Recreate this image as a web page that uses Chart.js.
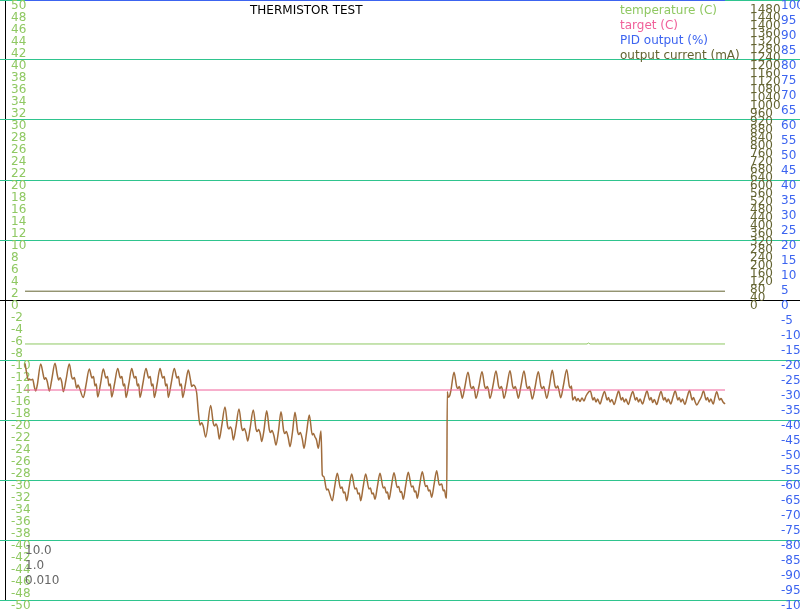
<!DOCTYPE html>
<html>
<head>
<meta charset="utf-8">
<script src="https://cdn.jsdelivr.net/npm/chart.js@4/dist/chart.umd.min.js"></script>
<style>
html,body{margin:0;padding:0;background:#fff;}
canvas{display:block;}
</style>
</head>
<body>
<canvas id="c" width="800" height="611"></canvas>
<script>
// ---- data (time in s) ----
const chartTitle = 'THERMISTOR TEST';
const pidGains = ['10.0', '1.0', '0.010'];

const currentTicks = [0,40,80,120,160,200,240,280,320,360,400,440,480,520,560,600,640,680,720,760,
  800,840,880,920,960,1000,1040,1080,1120,1160,1200,1240,1280,1320,1360,1400,1440,1480];

const flatTime = [0, 700];
const temperatureTime = [0, 562, 563.5, 565, 700];
const temperatureC = [-7.33, -7.33, -7.17, -7.33, -7.33];
const targetC = [-15, -15];
const pidOutputPct = [100, 100];
const outputCurrentMa = [44, 44];

const brownTime = [
0,1.7,3.3,4.3,6,7.7,9.3,10.7,12.3,
15.7,18.3,19.3,20.7,22.3,24.3,26.7,
30,32.3,33.7,35,36.7,38.3,41,
44.3,46.7,48,49.3,51.7,53,54.5,58.3,61,
64.3,67,68.5,70,71.3,72.7,75.5,
78.3,81,82.5,84,85.3,86.7,89.5,
92.7,95.4,96.9,98.4,99.7,101,103.8,
106.7,109.4,110.9,112.4,113.7,115,117.8,
121,123.7,125.2,126.7,128,129.3,132.1,
135,137.7,139.2,140.7,142,143.3,146.1,
149.3,152,153.5,155,156.3,157.7,160.5,
163.3,165.5,166.7,168.3,170,171.7,173.3,175,176.7,178.3,180.7,
185.7,188.3,189.7,191,192.7,194.3,196.7,
200,202.7,204,205.3,207,208.3,210.8,
214,216.7,218,219.3,221,222.7,225,
228.3,231,232.3,233.6,235.3,236.7,239,
241.7,244.4,245.7,247,249,251,253.5,
256,258.7,260,261.3,263.3,265,267.5,
270,272.7,274,275.3,277.3,279,281.5,
284.3,287.3,288.5,290,291.5,293.3,296,297.3,
298.8,301.7,303,304.5,307.3,309.5,
312.3,315.6,317,318.6,319.8,321.7,324,
326.7,330,331.4,333,334.2,335.7,338,
340.7,344,345.4,347,348.2,350,352.3,
355,358.3,359.7,361.3,362.5,364,366.3,
369,372.3,373.7,375.3,376.5,378.3,380.6,
383.3,386.6,388,389.6,390.8,392.3,394.6,
397.3,400.6,402,403.6,404.8,406.7,409,
411.7,414.3,416.7,418.3,419.5,420.7,421.7,422.3,423.3,424.7,426,
429,431.7,433,434.3,435.7,437.3,440,
443,445.7,447,448.3,449.7,451,454,
457,459.7,461,462.3,463.7,465,468,
471,473.7,475,476.3,477.7,479,482,
485,487.7,489,490.3,491.7,493.3,496,
499,501.7,503,504.3,505.7,507.3,510.3,
513.3,516,517.3,518.7,520,521.7,524.5,
527.3,530,531.3,532.7,534,535.7,538.5,
541.7,544.3,545.5,546.5,547.7,
550,551.5,553,555,557,559,561,
565.3,568,569.3,571,572.6,575,577.3,
579.5,582.2,583.5,585.2,586.8,589.2,591.5,
593.6,596.3,597.6,599.3,600.9,603.3,605.6,
607.8,610.5,611.8,613.5,615.1,617.5,619.8,
622,624.7,626,627.7,629.3,631.7,634,
636,638.7,640,641.7,643.3,645.7,648,
650.2,652.9,654.2,655.9,657.5,659.9,662.2,
664.5,667.2,668.5,670.2,671.8,674.2,676.3,
678.5,681.2,682.5,684.2,685.8,688.2,690,
691.7,694.5,696,698,700
];
const brownTemp = [
-10.55,-12.22,-13.33,-13.17,-13.33,-13.22,-14.45,-15.17,-14.17,
-10.67,-12.5,-13.22,-12.95,-13.62,-15.17,-13.33,
-10.55,-12.5,-13.33,-12.95,-13.62,-15.28,-13.33,
-10.67,-12.83,-13.17,-12.92,-14.67,-14.17,-14.67,-16.25,-14.17,
-11.5,-13.0,-12.75,-14.33,-14.0,-16.17,-14.0,
-11.5,-13.0,-12.75,-14.33,-14.0,-16.17,-14.0,
-11.42,-13.0,-12.75,-14.33,-14.0,-16.25,-14.0,
-11.42,-13.0,-12.75,-14.33,-14.0,-16.25,-14.0,
-11.42,-13.0,-12.75,-14.33,-14.0,-16.25,-14.0,
-11.42,-13.0,-12.75,-14.33,-14.0,-16.25,-14.0,
-11.42,-13.0,-12.75,-14.33,-14.0,-16.25,-14.0,
-11.67,-13.33,-14.42,-14.17,-14.42,-15.5,-18.62,-20.83,-20.45,-21.08,-22.83,
-17.58,-20.55,-21.0,-20.67,-21.42,-23.17,-21.0,
-17.83,-21.12,-21.5,-21.17,-21.83,-23.33,-21.33,
-18.17,-21.33,-21.75,-21.42,-22.17,-23.5,-21.5,
-18.33,-21.5,-21.92,-21.58,-22.33,-23.58,-21.67,
-18.45,-21.67,-22.08,-21.75,-22.67,-24.17,-21.83,
-18.62,-21.83,-22.25,-21.92,-23.0,-24.45,-22.0,
-18.72,-22.0,-22.42,-22.08,-23.17,-24.72,-22.17,
-19.17,-22.5,-22.25,-22.83,-23.33,-24.72,-21.83,-29.17,
-29.45,-31.67,-31.5,-32.17,-33.45,-31.33,
-28.88,-31.38,-31.17,-32.17,-32.0,-33.45,-31.33,
-29.0,-31.5,-31.33,-32.33,-32.17,-33.45,-31.33,
-29.0,-31.5,-31.33,-32.33,-32.17,-33.22,-31.17,
-28.88,-31.33,-31.17,-32.17,-32.0,-33.22,-31.17,
-28.78,-31.25,-31.08,-32.08,-31.92,-33.22,-31.0,
-28.72,-31.17,-31.0,-32.0,-31.83,-33.05,-30.92,
-28.62,-31.08,-30.92,-31.83,-31.67,-32.88,-30.83,
-28.45,-30.83,-30.67,-31.78,-31.67,-32.78,-33.0,-15.28,-16.22,-15.95,-15.0,
-12.05,-14.45,-14.75,-14.42,-15.17,-16.38,-14.33,
-12.05,-14.45,-14.75,-14.42,-15.17,-16.38,-14.33,
-11.95,-14.42,-14.75,-14.42,-15.17,-16.38,-14.25,
-11.83,-14.42,-14.75,-14.42,-15.17,-16.38,-14.25,
-11.78,-14.42,-14.75,-14.42,-15.17,-16.38,-14.25,
-11.83,-14.42,-14.75,-14.42,-15.25,-16.5,-14.33,
-11.95,-14.42,-14.75,-14.42,-15.17,-16.38,-14.25,
-11.72,-14.33,-14.67,-14.33,-15.08,-16.28,-14.17,
-11.62,-14.33,-14.67,-14.33,-16.67,
-16.12,-16.83,-16.42,-16.92,-16.33,-16.83,-16.0,
-15.17,-16.67,-16.25,-17.0,-16.5,-17.33,-16.17,
-15.25,-16.67,-16.25,-17.0,-16.58,-17.42,-16.17,
-15.17,-16.67,-16.25,-17.0,-16.5,-17.42,-16.17,
-15.25,-16.67,-16.25,-17.0,-16.5,-17.33,-16.17,
-15.17,-16.67,-16.25,-17.08,-16.58,-17.42,-16.17,
-15.25,-16.67,-16.25,-17.0,-16.5,-17.33,-16.17,
-15.17,-16.67,-16.25,-17.0,-16.5,-17.42,-16.17,
-15.08,-16.67,-16.25,-17.0,-17.5,-16.83,-16.17,
-15.17,-16.67,-16.25,-17.0,-16.5,-17.33,-16.17,
-15.28,-16.67,-16.42,-17.0,-17.33
];

// ---- helpers ----
const pts = (xs, ys) => xs.map((x, i) => ({x: x, y: ys[i]}));

const COL_TEMP = '#8fc862';
const COL_TARGET = '#f0609a';
const COL_PID = '#3c64f0';
const COL_CURRENT = '#646432';
const COL_RAW = '#a06c3c';
const COL_GRID = '#2fc48e';

Chart.defaults.font.family = '"DejaVu Sans", sans-serif';
Chart.defaults.font.size = 12;

const textPlugin = {
  id: 'chartTexts',
  afterDraw(chart) {
    const ctx = chart.ctx;
    ctx.save();
    ctx.font = '12px "DejaVu Sans", sans-serif';
    ctx.textBaseline = 'middle';
    ctx.textAlign = 'left';
    ctx.fillStyle = '#000';
    ctx.fillText(chartTitle, 250, 11);
    let y = 11;
    chart.data.datasets.forEach(ds => {
      if (ds.inLegend) {
        ctx.fillStyle = ds.borderColor;
        ctx.fillText(ds.label, 620, y);
        y += 15;
      }
    });
    ctx.fillStyle = '#666666';
    pidGains.forEach((g, i) => ctx.fillText(g, 25, 551 + 15 * i));
    ctx.restore();
  }
};

// axes take no room: labels are mirrored into the plot area
const zeroWidth = s => {
  s.width = 0;
  s.paddingTop = 0; s.paddingBottom = 0; s.paddingLeft = 0; s.paddingRight = 0;
};

new Chart(document.getElementById('c'), {
  type: 'line',
  data: {
    datasets: [
      {label: 'temperature (C)', inLegend: true, data: pts(temperatureTime, temperatureC), yAxisID: 'yT',
       borderColor: COL_TEMP, borderWidth: 1, order: 2},
      {label: 'target (C)', inLegend: true, data: pts(flatTime, targetC), yAxisID: 'yT',
       borderColor: COL_TARGET, borderWidth: 1, order: 0},
      {label: 'PID output (%)', inLegend: true, data: pts(flatTime, pidOutputPct), yAxisID: 'yP',
       borderColor: COL_PID, borderWidth: 2, order: 2},
      {label: 'output current (mA)', inLegend: true, data: pts(flatTime, outputCurrentMa), yAxisID: 'yC',
       borderColor: COL_CURRENT, borderWidth: 1, order: 2},
      {label: 'thermistor', inLegend: false, data: pts(brownTime, brownTemp), yAxisID: 'yT',
       borderColor: COL_RAW, borderWidth: 1.5, cubicInterpolationMode: 'monotone', order: 1}
    ]
  },
  options: {
    responsive: false,
    animation: false,
    events: [],
    layout: {autoPadding: false, padding: {left: 0, right: 0, top: 0, bottom: 11}},
    elements: {point: {radius: 0}, line: {tension: 0, fill: false}},
    plugins: {legend: {display: false}, tooltip: {enabled: false}, title: {display: false}},
    scales: {
      x: {
        type: 'linear', position: 'bottom', min: -25, max: 775,
        ticks: {display: false},
        border: {display: false},
        grid: {drawTicks: false, color: '#000000', lineWidth: 1},
        afterBuildTicks: s => { s.ticks = [{value: -20}]; },
        afterFit: s => { s.height = 0; s.paddingLeft = 0; s.paddingRight = 0; s.paddingTop = 0; s.paddingBottom = 0; }
      },
      yT: {
        type: 'linear', position: 'left', min: -50, max: 50,
        border: {display: false},
        grid: {
          drawTicks: false,
          color: c => (c.tick && c.tick.value === 0) ? '#000000' : ((c.tick && c.tick.value % 10 === 0) ? COL_GRID : 'rgba(0,0,0,0)'),
          lineWidth: 1
        },
        ticks: {stepSize: 2, mirror: true, padding: 11, labelOffset: 6, autoSkip: false, color: COL_TEMP,
                crossAlign: 'near', callback: v => String(v)},
        afterFit: zeroWidth
      },
      yC: {
        type: 'linear', position: 'left', min: -1500, max: 1500,
        border: {display: false},
        grid: {display: false, drawTicks: false},
        ticks: {mirror: true, padding: 750, labelOffset: 6, autoSkip: false, color: COL_CURRENT,
                crossAlign: 'near', callback: v => String(v)},
        afterBuildTicks: s => { s.ticks = currentTicks.map(v => ({value: v})); },
        afterFit: zeroWidth
      },
      yP: {
        type: 'linear', position: 'left', min: -100, max: 100,
        border: {display: false},
        grid: {display: false, drawTicks: false},
        ticks: {stepSize: 5, mirror: true, padding: 781, labelOffset: 6, autoSkip: false, color: COL_PID,
                crossAlign: 'near', callback: v => String(v)},
        afterFit: zeroWidth
      }
    }
  },
  plugins: [textPlugin]
});
</script>
</body>
</html>
